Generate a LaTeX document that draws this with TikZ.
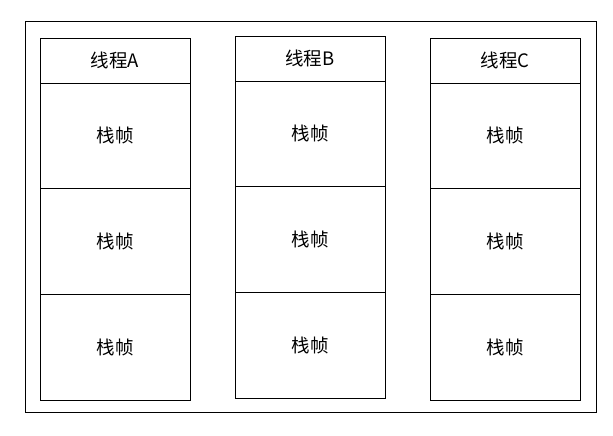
\documentclass[tikz,border=0pt]{standalone}
\usepackage{fontspec}
\newfontfamily\cjk{Noto Sans CJK SC}[Scale=1]
\begin{document}
\begin{tikzpicture}[x=1pt,y=-1pt,
  cell/.style={draw,line width=0.9pt,minimum width=150pt,inner sep=0pt,outer sep=0pt,font=\fontsize{18.5}{18.5}\selectfont\cjk},
  headcell/.style={cell,minimum height=44.7pt},
  framecell/.style={cell,minimum height=105.7pt},
  outerbox/.style={draw,line width=0.9pt}]
\useasboundingbox (0,0) rectangle (613,436);
\node[outerbox,minimum width=571pt,minimum height=391pt,inner sep=0pt] (outer) at (310.5,217) {};
% column A
\node[headcell] (hA) at (115,60.7) {线程A};
\node[framecell,anchor=north] (a1) at (hA.south) {栈帧};
\node[framecell,anchor=north] (a2) at (a1.south) {栈帧};
\node[framecell,anchor=north] (a3) at (a2.south) {栈帧};
% column B
\node[headcell] (hB) at (310,58.7) {线程B};
\node[framecell,anchor=north] (b1) at (hB.south) {栈帧};
\node[framecell,anchor=north] (b2) at (b1.south) {栈帧};
\node[framecell,anchor=north] (b3) at (b2.south) {栈帧};
% column C
\node[headcell] (hC) at (505,60.7) {线程C};
\node[framecell,anchor=north] (c1) at (hC.south) {栈帧};
\node[framecell,anchor=north] (c2) at (c1.south) {栈帧};
\node[framecell,anchor=north] (c3) at (c2.south) {栈帧};
\end{tikzpicture}
\end{document}
